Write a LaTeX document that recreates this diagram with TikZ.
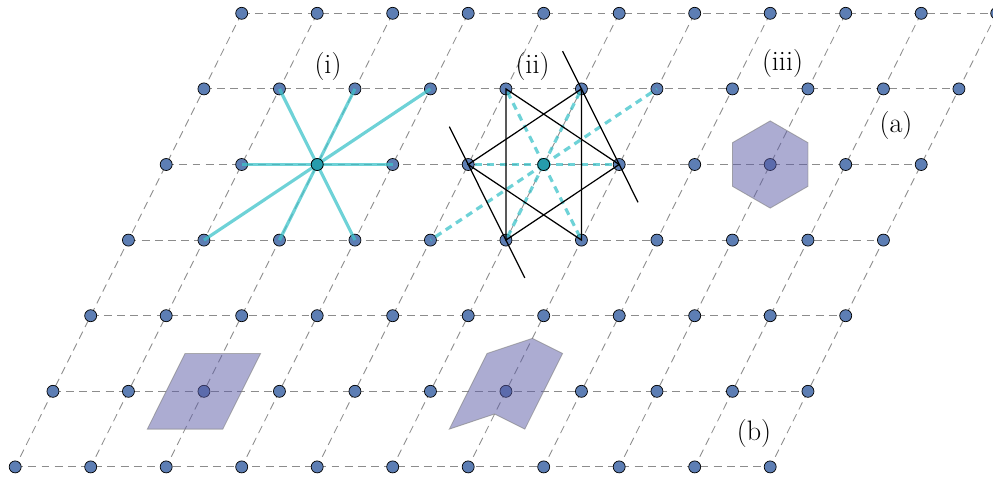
\documentclass[tikz,border=0pt]{standalone}
\usepackage{xcolor}
\usepackage{tikz}
\usetikzlibrary{calc}
\definecolor{sitefill}{RGB}{93,126,180}
\definecolor{tealsite}{RGB}{38,156,172}
\definecolor{myteal}{RGB}{62,195,202}
\definecolor{cellfill}{RGB}{90,90,165}
\definecolor{latgray}{RGB}{140,140,140}
\tikzset{
  site/.style={circle, draw=black, fill=sitefill,
    minimum size=0.24cm, inner sep=0pt, line width=0.4pt},
  centersite/.style={site, fill=tealsite},
  latline/.style={color=latgray, line width=0.5pt, dash pattern=on 4.5pt off 3pt},
  bond/.style={color=myteal, opacity=0.75, line width=1.8pt},
  dbond/.style={bond, dash pattern=on 4pt off 3pt},
  wline/.style={color=black, line width=0.7pt},
  cell/.style={fill=cellfill, fill opacity=0.5, draw=gray,
    draw opacity=0.6, line width=0.5pt},
  lbl/.style={font=\fontsize{16}{19}\selectfont, inner sep=0pt},
  lat/.style={x={(1.51cm,0)}, y={(-0.755cm,-1.512cm)}}
}

\begin{document}
\begin{tikzpicture}
  \useasboundingbox (-4.834,0.266) rectangle (15.026,-9.314);
  \clip (-4.834,0.266) rectangle (15.026,-9.314);
  % Lattice points
  \foreach \j in {0,...,6}
    \foreach \i in {0,...,10}
      \coordinate (p\i-\j) at ({1.51*\i-0.755*\j},{-1.512*\j});
  \foreach \j in {0,...,6}
    \draw[latline] (p0-\j) -- (p10-\j);
  \foreach \i in {0,...,10}
    \draw[latline] (p\i-0) -- (p\i-6);
  \foreach \j in {0,...,6}
    \foreach \i in {0,...,10}
      \node[site] (s\i-\j) at (p\i-\j) {};

  % (i) bonds
  \foreach \n in {1-1,2-1,3-1,1-2,3-2,1-3,2-3,3-3}
    \draw[bond] (p2-2) -- (p\n);
  % (ii) bonds and hexagram
  \foreach \n in {4-1,5-1,6-1,4-2,6-2,4-3,5-3,6-3}
    \draw[dbond] (p5-2) -- (p\n);
  \draw[wline] (p4-1) -- (p6-2) -- (p5-3) -- cycle;
  \draw[wline] (p5-1) -- (p4-2) -- (p6-3) -- cycle;
  \draw[wline] ($(p4-2)!-0.5!(p5-3)$) -- ($(p4-2)!1.5!(p5-3)$);
  \draw[wline] ($(p5-1)!-0.5!(p6-2)$) -- ($(p5-1)!1.5!(p6-2)$);
  \node[centersite] (c1) at (p2-2) {};
  \node[centersite] (c2) at (p5-2) {};

  % (iii) hexagonal cell
  \draw[cell] ($(p8-2)+(90:0.872)$)
    \foreach \a in {150,210,270,330,30} {-- ($(p8-2)+(\a:0.872)$)} -- cycle;
  % (b) unit cells
  \begin{scope}[lat, shift={(p2-5)}]
    \draw[cell] (-0.5,-0.5) -- (0.5,-0.5) -- (0.5,0.5) -- (-0.5,0.5) -- cycle;
  \end{scope}
  \begin{scope}[lat, shift={(p6-5)}]
    \draw[cell] (-0.5,-0.5) -- (0,-0.7) -- (0.5,-0.5) -- (0.5,0.5)
      -- (0,0.3) -- (-0.5,0.5) -- cycle;
  \end{scope}

  \node[lbl] (labi)   at (1.726,-1.064)  {(i)};
  \node[lbl] (labii)  at (5.816,-1.064)  {(ii)};
  \node[lbl] (labiii) at (10.816,-1.0)   {(iii)};
  \node[lbl] (laba)   at (13.086,-2.234) {(a)};
  \node[lbl] (labb)   at (10.246,-8.394) {(b)};
\end{tikzpicture}
\end{document}
